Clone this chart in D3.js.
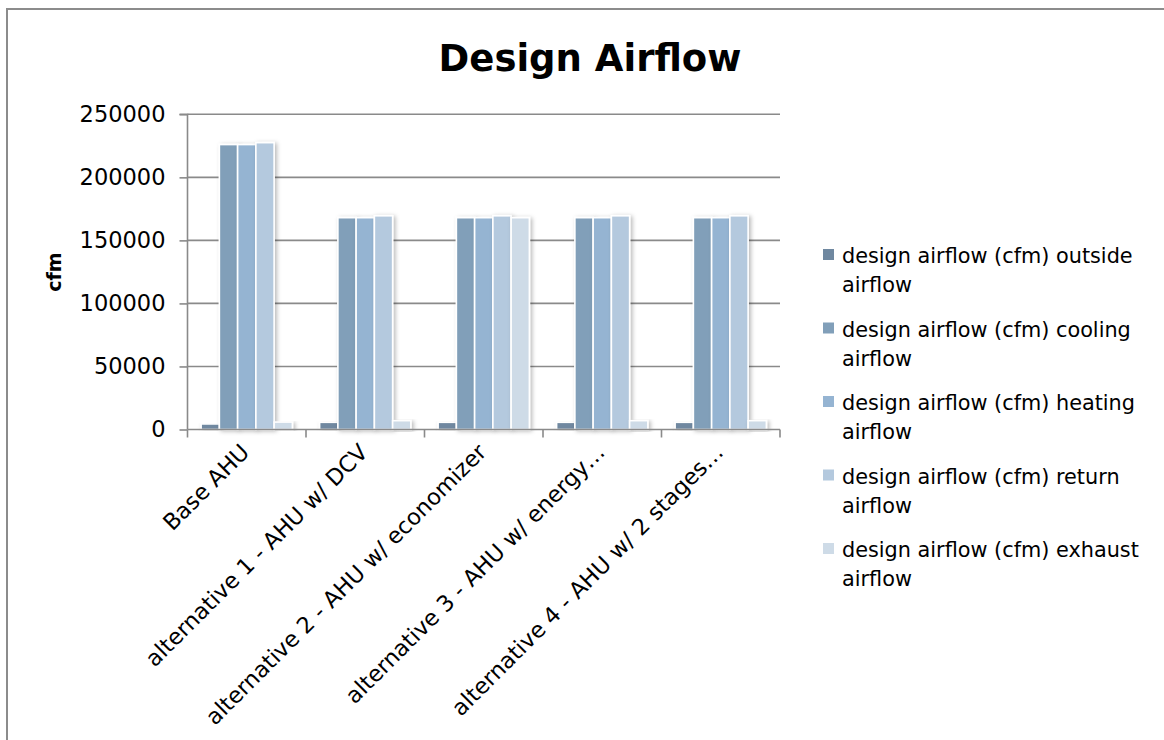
<!DOCTYPE html>
<html>
<head>
<meta charset="utf-8">
<script src="https://cdn.jsdelivr.net/npm/d3@7"></script>
<style>
  html, body { margin: 0; padding: 0; background: #fff; }
  svg { display: block; }
  text { font-family: "DejaVu Sans", sans-serif; fill: #000; }
</style>
</head>
<body>
<svg id="chart" width="1164" height="740"></svg>
<script>
// Categories (AHU configurations) and the airflow series
const categories = [
  "Base AHU",
  "alternative 1 - AHU w/ DCV",
  "alternative 2 - AHU w/ economizer",
  "alternative 3 - AHU w/ energy…",
  "alternative 4 - AHU w/ 2 stages…"
];
const seriesNames = [
  "design airflow (cfm) outside airflow",
  "design airflow (cfm) cooling airflow",
  "design airflow (cfm) heating airflow",
  "design airflow (cfm) return airflow",
  "design airflow (cfm) exhaust airflow"
];
const outsideAirflow = [4400, 5700, 5700, 5700, 5700];
const coolingAirflow = [226000, 168000, 168000, 168000, 168000];
const heatingAirflow = [226000, 168000, 168000, 168000, 168000];
const returnAirflow  = [227500, 169500, 169500, 169500, 169500];
const exhaustAirflow = [5900, 7000, 168000, 7000, 7000];
const yTicks = [0, 50000, 100000, 150000, 200000, 250000];
const seriesColors = ["#6f88a0", "#819fb9", "#95b4d2", "#b4c9de", "#cedbe7"];

const seriesValues = [outsideAirflow, coolingAirflow, heatingAirflow, returnAirflow, exhaustAirflow];

const svg = d3.select("#chart");

// Chart frame
svg.append("path")
  .attr("d", "M7,740 L7,9 L1164,9")
  .attr("fill", "none").attr("stroke", "#8c8c8c").attr("stroke-width", 2);

// Soft drop shadow for bars
const defs = svg.append("defs");
const f = defs.append("filter").attr("id", "barShadow")
  .attr("x", "-30%").attr("y", "-10%").attr("width", "170%").attr("height", "130%");
f.append("feDropShadow").attr("dx", 2).attr("dy", 1).attr("stdDeviation", 2)
  .attr("flood-color", "#000").attr("flood-opacity", 0.28);

const plotLeft = 187.5, plotRight = 780, plotTop = 114.3, plotBottom = 429.5;

const y = d3.scaleLinear().domain([0, 250000]).range([plotBottom, plotTop]);
const x0 = d3.scaleBand().domain(categories).range([plotLeft, plotRight]).padding(0);
const gap = x0.bandwidth() * 0.115;
const x1 = d3.scaleBand().domain(d3.range(seriesNames.length))
  .range([gap, x0.bandwidth() - gap]).padding(0);

// Horizontal gridlines
svg.append("g").selectAll("line")
  .data(yTicks.filter(d => d > 0))
  .join("line")
  .attr("x1", plotLeft).attr("x2", plotRight)
  .attr("y1", d => y(d)).attr("y2", d => y(d))
  .attr("stroke", "#8a8a8a").attr("stroke-width", 1.6);

// Bars
const groups = svg.append("g").selectAll("g")
  .data(categories)
  .join("g")
  .attr("transform", d => `translate(${x0(d)},0)`);

groups.selectAll("rect")
  .data((c, ci) => seriesValues.map((vals, si) => ({ si, v: vals[ci] })))
  .join("rect")
  .attr("x", d => x1(d.si))
  .attr("width", x1.bandwidth())
  .attr("y", d => y(d.v))
  .attr("height", d => plotBottom - y(d.v))
  .attr("fill", d => seriesColors[d.si])
  .attr("stroke", "#fff").attr("stroke-width", 1.6)
  .attr("filter", "url(#barShadow)");

// Y axis
const yAxis = d3.axisLeft(y).tickValues(yTicks).tickSize(8).tickPadding(14).tickFormat(d3.format("d"));
const gy = svg.append("g").attr("transform", `translate(${plotLeft},0)`).call(yAxis);
gy.select(".domain").attr("stroke", "#8a8a8a").attr("stroke-width", 1.6)
  .attr("d", `M-8,${plotTop}H0V${plotBottom}`);
gy.selectAll(".tick line").attr("stroke", "#8a8a8a").attr("stroke-width", 1.6);
gy.selectAll(".tick text").attr("font-size", 22.5).attr("font-family", "DejaVu Sans").attr("fill", "#000");

// X axis with ticks on category boundaries
const gx = svg.append("g");
gx.append("line")
  .attr("x1", plotLeft).attr("x2", plotRight)
  .attr("y1", plotBottom).attr("y2", plotBottom)
  .attr("stroke", "#8a8a8a").attr("stroke-width", 1.6);
const bounds = categories.map(c => x0(c)).concat([plotRight]);
gx.selectAll("line.tk").data(bounds).join("line").attr("class", "tk")
  .attr("x1", d => d).attr("x2", d => d)
  .attr("y1", plotBottom).attr("y2", plotBottom + 8)
  .attr("stroke", "#8a8a8a").attr("stroke-width", 1.6);

gx.selectAll("text").data(categories).join("text")
  .attr("transform", d => `translate(${x0(d) + x0.bandwidth() / 2 + 4},${plotBottom + 24}) rotate(-45)`)
  .attr("text-anchor", "end")
  .attr("font-size", 22.5)
  .text(d => d);

// Y axis title
svg.append("text")
  .attr("transform", "translate(61,272) rotate(-90)")
  .attr("text-anchor", "middle")
  .attr("font-size", 19).attr("font-weight", "bold")
  .text("cfm");

// Chart title
svg.append("text")
  .attr("x", 590).attr("y", 71)
  .attr("text-anchor", "middle")
  .attr("font-size", 37).attr("font-weight", "bold")
  .text("Design Airflow");

// Legend
const legend = svg.append("g").selectAll("g")
  .data(seriesNames)
  .join("g")
  .attr("transform", (d, i) => `translate(823,${249 + i * 73.5})`);
legend.append("rect")
  .attr("width", 11).attr("height", 11)
  .attr("fill", (d, i) => seriesColors[i]);
legend.each(function (d) {
  const words = d.split(" ");
  const last = words.pop();
  const t = d3.select(this).append("text").attr("font-size", 20.8);
  t.append("tspan").attr("x", 19).attr("y", 14).text(words.join(" "));
  t.append("tspan").attr("x", 19).attr("y", 43).text(last);
});
</script>
</body>
</html>
